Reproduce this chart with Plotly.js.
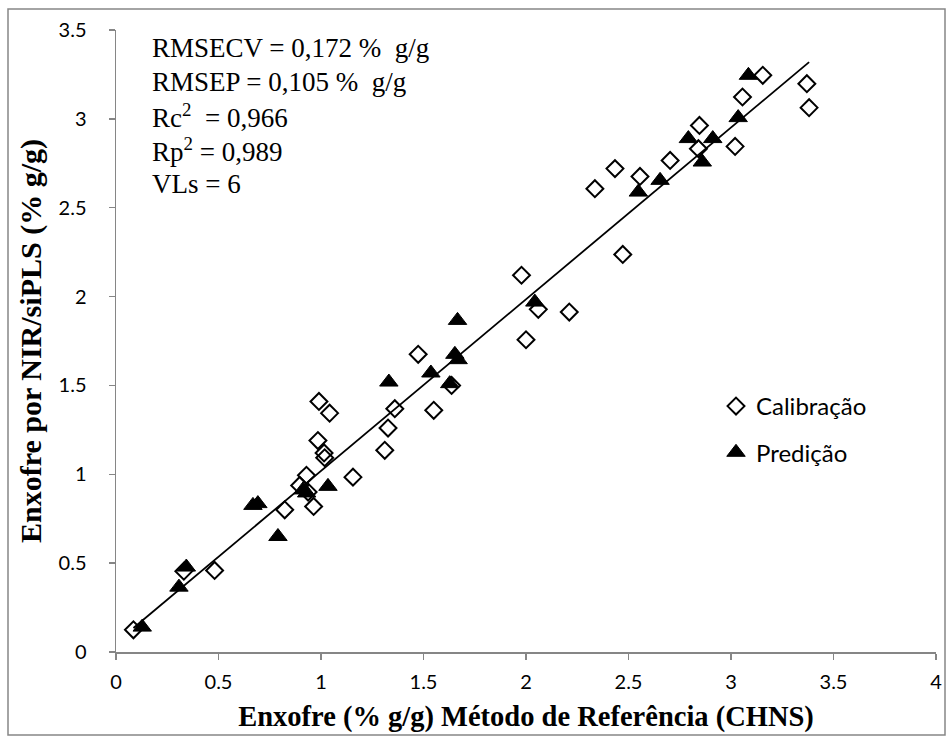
<!DOCTYPE html>
<html>
<head>
<meta charset="utf-8">
<script src="https://cdn.plot.ly/plotly-3.0.1.min.js"></script>
<style>
  html, body { margin: 0; padding: 0; background: #ffffff; }
  #chart { width: 947px; height: 738px; }
</style>
</head>
<body>
<div id="chart"></div>
<script>
// Calibration samples: reference value (CHNS) vs. NIR/siPLS prediction, % g/g
const calX = [0.085, 0.331, 0.481, 0.823, 0.964, 0.896, 0.929, 0.937, 0.985, 1.015,
              1.018, 0.990, 1.042, 1.156, 1.311, 1.327, 1.360, 1.550, 1.474, 1.637,
              1.978, 2.000, 2.060, 2.211, 2.472, 2.336, 2.434, 2.556, 2.703, 2.846,
              2.841, 3.020, 3.056, 3.155, 3.370, 3.381];
const calY = [0.125, 0.455, 0.459, 0.800, 0.819, 0.937, 0.994, 0.900, 1.190, 1.120,
              1.093, 1.410, 1.344, 0.984, 1.135, 1.260, 1.369, 1.360, 1.675, 1.500,
              2.120, 1.757, 1.928, 1.913, 2.237, 2.607, 2.720, 2.676, 2.766, 2.963,
              2.832, 2.845, 3.123, 3.245, 3.198, 3.063];

// External prediction set
const predX = [0.128, 0.307, 0.343, 0.668, 0.692, 0.790, 0.912, 0.930, 1.034, 1.331,
               1.536, 1.628, 1.653, 1.669, 1.666, 2.043, 2.548, 2.654, 2.792, 2.860,
               2.911, 3.035, 3.085];
const predY = [0.140, 0.365, 0.478, 0.825, 0.835, 0.650, 0.912, 0.895, 0.932, 1.519,
               1.570, 1.510, 1.675, 1.645, 1.866, 1.969, 2.588, 2.654, 2.889, 2.757,
               2.889, 3.007, 3.245];

// Linear trend line of the model
const trendSlope = 0.966;
const trendIntercept = 0.053;

// Figures of merit shown in the corner box
const statLines = [
  'RMSECV = 0,172 %  g/g',
  'RMSEP = 0,105 %  g/g',
  'Rc<sup>2</sup>  = 0,966',
  'Rp<sup>2</sup> = 0,989',
  'VLs = 6'
];

const allX = calX.concat(predX);
const xMin = Math.min.apply(null, allX);
const xMax = Math.max.apply(null, allX);

// Figure geometry in pixels
const W = 947, H = 738;
const M = { l: 116, r: 11, t: 30, b: 86 };
const PW = W - M.l - M.r, PH = H - M.t - M.b;
const px2paperX = p => (p - M.l) / PW;
const px2paperY = p => (H - M.b - p) / PH;

const axisGrey = '#868686';
const serif = '"Liberation Serif", "Times New Roman", serif';
const sans = 'Lato, "Open Sans", sans-serif';

const traces = [
  {
    x: [xMin, xMax],
    y: [trendIntercept + trendSlope * xMin, trendIntercept + trendSlope * xMax],
    mode: 'lines',
    line: { color: '#000000', width: 1.8 },
    showlegend: false,
    hoverinfo: 'skip'
  },
  {
    name: 'Calibração',
    x: calX, y: calY,
    mode: 'markers',
    legendgroup: 'cal',
    marker: { symbol: 'diamond-open', size: 13, color: '#000000', line: { width: 2, color: '#000000' } }
  },
  {
    name: 'Predição',
    x: predX, y: predY,
    mode: 'markers',
    legendgroup: 'pred',
    marker: { symbol: 'triangle-up', size: 16, color: '#000000', line: { width: 1, color: '#000000' } }
  }
];

const statTop = 48, statStep = 34, statLeft = 150;
const annotations = statLines.map((t, i) => ({
  text: t,
  xref: 'paper', yref: 'paper',
  x: px2paperX(statLeft), y: px2paperY(statTop + i * statStep),
  xanchor: 'left', yanchor: 'middle',
  showarrow: false,
  font: { family: serif, size: 27, color: '#000000' }
}));

const layout = {
  width: W, height: H,
  margin: M,
  paper_bgcolor: '#ffffff',
  plot_bgcolor: '#ffffff',
  showlegend: true,
  legend: {
    x: px2paperX(716), y: px2paperY(384),
    xanchor: 'left', yanchor: 'top',
    bgcolor: 'rgba(0,0,0,0)',
    font: { family: sans, size: 24, color: '#000000' },
    tracegroupgap: 12,
    traceorder: 'grouped',
    itemwidth: 30
  },
  xaxis: {
    range: [0, 4],
    dtick: 0.5, tick0: 0,
    showgrid: false, zeroline: false,
    showline: true, linecolor: axisGrey, linewidth: 1.5,
    ticks: 'outside', ticklen: 6, tickwidth: 1.5, tickcolor: axisGrey,
    tickfont: { family: sans, size: 20, color: '#000000' },
    ticklabelstandoff: 5,
    title: {
      text: '<b>Enxofre (% g/g) Método de Referência (CHNS)</b>',
      font: { family: serif, size: 28.5, color: '#000000' },
      standoff: 14
    }
  },
  yaxis: {
    range: [0, 3.5],
    dtick: 0.5, tick0: 0,
    showgrid: false, zeroline: false,
    showline: true, linecolor: axisGrey, linewidth: 1.5,
    ticks: 'outside', ticklen: 6, tickwidth: 1.5, tickcolor: axisGrey,
    tickfont: { family: sans, size: 20, color: '#000000' },
    ticklabelstandoff: 18,
    title: {
      text: '<b>Enxofre por NIR/siPLS (% g/g)</b>',
      font: { family: serif, size: 30, color: '#000000' },
      standoff: 8
    }
  },
  annotations: annotations,
  shapes: [{
    type: 'rect', xref: 'paper', yref: 'paper', layer: 'below',
    x0: px2paperX(8), x1: px2paperX(945),
    y0: px2paperY(735), y1: px2paperY(9),
    line: { color: axisGrey, width: 1.5 },
    fillcolor: 'rgba(0,0,0,0)'
  }]
};

Plotly.newPlot('chart', traces, layout, { displayModeBar: false, staticPlot: true });
</script>
</body>
</html>
